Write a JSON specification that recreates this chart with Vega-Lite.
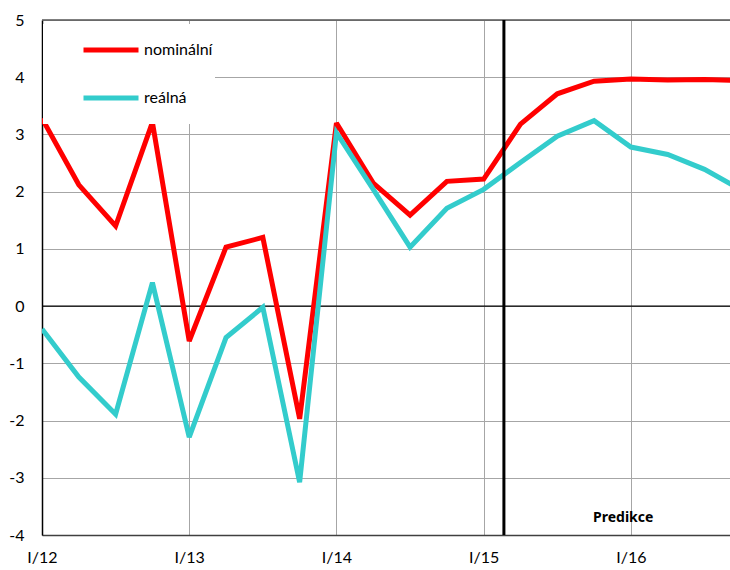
{
  "$schema": "https://vega.github.io/schema/vega-lite/v6.json",
  "width": 689,
  "height": 515,
  "padding": {"left": 8, "top": 12, "right": 0, "bottom": 0},
  "autosize": {"type": "pad"},
  "config": {
    "font": "Lato",
    "view": {"stroke": null},
    "axis": {"labelFont": "Lato", "labelFontSize": 16, "labelColor": "#000", "ticks": false, "title": null, "gridColor": "#a6a6a6", "gridWidth": 1}
  },
  "data": {"values": [
      {"t": 0, "q": "I/12", "series": "nominální", "value": 3.28},
      {"t": 1, "q": "II/12", "series": "nominální", "value": 2.12},
      {"t": 2, "q": "III/12", "series": "nominální", "value": 1.40},
      {"t": 3, "q": "IV/12", "series": "nominální", "value": 3.21},
      {"t": 4, "q": "I/13", "series": "nominální", "value": -0.61},
      {"t": 5, "q": "II/13", "series": "nominální", "value": 1.03},
      {"t": 6, "q": "III/13", "series": "nominální", "value": 1.20},
      {"t": 7, "q": "IV/13", "series": "nominální", "value": -1.97},
      {"t": 8, "q": "I/14", "series": "nominální", "value": 3.20},
      {"t": 9, "q": "II/14", "series": "nominální", "value": 2.15},
      {"t": 10, "q": "III/14", "series": "nominální", "value": 1.59},
      {"t": 11, "q": "IV/14", "series": "nominální", "value": 2.18},
      {"t": 12, "q": "I/15", "series": "nominální", "value": 2.22},
      {"t": 13, "q": "II/15", "series": "nominální", "value": 3.18},
      {"t": 14, "q": "III/15", "series": "nominální", "value": 3.71},
      {"t": 15, "q": "IV/15", "series": "nominální", "value": 3.93},
      {"t": 16, "q": "I/16", "series": "nominální", "value": 3.97},
      {"t": 17, "q": "II/16", "series": "nominální", "value": 3.95},
      {"t": 18, "q": "III/16", "series": "nominální", "value": 3.96},
      {"t": 19, "q": "IV/16", "series": "nominální", "value": 3.94},
      {"t": 0, "q": "I/12", "series": "reálná", "value": -0.40},
      {"t": 1, "q": "II/12", "series": "reálná", "value": -1.24},
      {"t": 2, "q": "III/12", "series": "reálná", "value": -1.89},
      {"t": 3, "q": "IV/12", "series": "reálná", "value": 0.41},
      {"t": 4, "q": "I/13", "series": "reálná", "value": -2.29},
      {"t": 5, "q": "II/13", "series": "reálná", "value": -0.55},
      {"t": 6, "q": "III/13", "series": "reálná", "value": -0.02},
      {"t": 7, "q": "IV/13", "series": "reálná", "value": -3.08},
      {"t": 8, "q": "I/14", "series": "reálná", "value": 3.03},
      {"t": 9, "q": "II/14", "series": "reálná", "value": 2.04},
      {"t": 10, "q": "III/14", "series": "reálná", "value": 1.03},
      {"t": 11, "q": "IV/14", "series": "reálná", "value": 1.71},
      {"t": 12, "q": "I/15", "series": "reálná", "value": 2.04},
      {"t": 13, "q": "II/15", "series": "reálná", "value": 2.51},
      {"t": 14, "q": "III/15", "series": "reálná", "value": 2.97},
      {"t": 15, "q": "IV/15", "series": "reálná", "value": 3.24},
      {"t": 16, "q": "I/16", "series": "reálná", "value": 2.78},
      {"t": 17, "q": "II/16", "series": "reálná", "value": 2.65},
      {"t": 18, "q": "III/16", "series": "reálná", "value": 2.39},
      {"t": 19, "q": "IV/16", "series": "reálná", "value": 2.03}
  ]},
  "encoding": {
    "x": {
      "field": "t", "type": "quantitative",
      "scale": {"domain": [0, 18.72], "nice": false, "zero": false},
      "axis": {"values": [0, 4, 8, 12, 16], "labelExpr": "'I/' + (12 + datum.value / 4)", "grid": true, "domainColor": "#404040", "domainWidth": 1.5, "labelPadding": 14, "labelAlign": "center", "labelFlush": false}
    },
    "y": {
      "field": "value", "type": "quantitative",
      "scale": {"domain": [-4, 5], "nice": false},
      "axis": {"values": [-4, -3, -2, -1, 0, 1, 2, 3, 4, 5], "labelExpr": "'' + datum.value", "grid": true, "domainColor": "#000", "domainWidth": 1.5, "labelPadding": 18}
    }
  },
  "layer": [
    {
      "transform": [{"filter": "datum.t == 0 && datum.series == 'nominální'"}],
      "mark": {"type": "rule", "color": "#555", "strokeWidth": 1.5},
      "encoding": {"y": {"datum": 5}, "x": null}
    },
    {
      "transform": [{"filter": "datum.t == 0 && datum.series == 'nominální'"}],
      "mark": {"type": "rule", "color": "#000", "strokeWidth": 1.3},
      "encoding": {"y": {"datum": 0}, "x": null}
    },
    {
      "mark": {"type": "line", "strokeWidth": 5, "clip": true, "strokeJoin": "miter", "strokeMiterLimit": 3},
      "encoding": {
        "color": {
          "field": "series", "type": "nominal",
          "scale": {"domain": ["nominální", "reálná"], "range": ["#ff0000", "#33cccc"]},
          "legend": {
            "title": null, "orient": "none", "legendX": 1, "legendY": 4,
            "fillColor": "#ffffff", "padding": 2, "symbolType": "stroke", "symbolSize": 3025,
            "symbolStrokeWidth": 5, "symbolOffset": 36, "clipHeight": 48, "rowPadding": 0,
            "labelFontSize": 16, "labelFont": "Lato", "labelColor": "#000", "labelOffset": 3,
            "labelExpr": "datum.label + '\u2003\u2003\u2003\u2003'"
          }
        }
      }
    },
    {
      "transform": [{"filter": "datum.t == 0 && datum.series == 'nominální'"}],
      "mark": {"type": "rule", "color": "#000", "strokeWidth": 3},
      "encoding": {"x": {"datum": 12.55}, "y": null}
    },
    {
      "transform": [{"filter": "datum.t == 0 && datum.series == 'nominální'"}],
      "mark": {"type": "text", "text": "Predikce", "fontSize": 14, "fontWeight": "bold", "font": "Noto Sans", "color": "#000"},
      "encoding": {"x": {"datum": 15.79}, "y": {"datum": -3.7}}
    }
  ]
}
